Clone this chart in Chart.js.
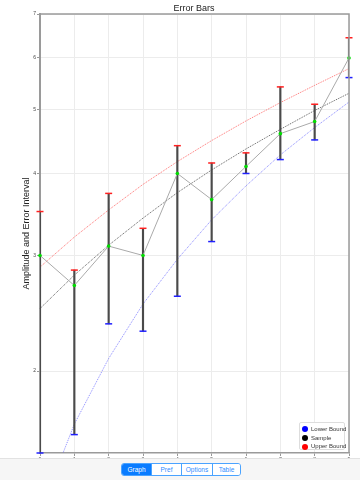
<!DOCTYPE html>
<html>
<head>
<meta charset="utf-8">
<script src="https://cdn.jsdelivr.net/npm/chart.js@4.4.0/dist/chart.umd.min.js"></script>
<style>
html, body { margin: 0; padding: 0; background: #fff; }
body { width: 360px; height: 480px; position: relative; overflow: hidden; font-family: "Liberation Sans", Arial, sans-serif; }
#chart { position: absolute; left: 0; top: 0; }
.legend { position: absolute; left: 299px; top: 422px; width: 46px; height: 28px; background: #fff; border: 1px solid #ddd; border-radius: 2px; box-sizing: border-box; padding-top: 2px; }
.legend div { height: 8.7px; line-height: 8.7px; font-size: 6px; color: #333; white-space: nowrap; position: relative; padding-left: 11px; }
.legend span { position: absolute; left: 2px; top: 1.3px; width: 6px; height: 6px; border-radius: 50%; }
.tabbar { position: absolute; left: 0; top: 458px; width: 360px; height: 22px; background: #f6f6f6; border-top: 1px solid #e2e2e2; box-sizing: border-box; }
.seg { position: absolute; left: 121px; top: 463px; height: 13px; display: flex; border: 1px solid #4aa3ff; border-radius: 3px; box-sizing: border-box; overflow: hidden; }
.seg div { font-size: 6.5px; color: #2f8cff; line-height: 11px; text-align: center; border-left: 1px solid #4aa3ff; background: #fff; }
.seg div:first-child { border-left: none; background: #0a7cff; color: #fff; }
</style>
</head>
<body>
<canvas id="chart" width="360" height="480"></canvas>
<div class="legend">
  <div><span style="background:#0000ff"></span>Lower Bound</div>
  <div><span style="background:#000"></span>Sample</div>
  <div><span style="background:#ff0000"></span>Upper Bound</div>
</div>
<div class="tabbar"></div>
<div class="seg">
  <div style="width:29px">Graph</div>
  <div style="width:29px">Pref</div>
  <div style="width:30px">Options</div>
  <div style="width:27px">Table</div>
</div>
<script>
const xLabels = ['0', '1', '2', '3', '4', '5', '6', '7', '8', '9'];
const yTicks = [2, 3, 4, 5, 6, 7];
const sample = [3.0, 2.7, 3.1, 3.0, 4.0, 3.65, 4.1, 4.6, 4.8, 6.0];
const upper = [3.5, 2.85, 3.73, 3.3, 4.41, 4.15, 4.3, 5.42, 5.1, 6.44];
const lower = [1.5, 1.6, 2.36, 2.3, 2.6, 3.15, 4.0, 4.2, 4.5, 5.6];
// fitted trend lines
const upperTrend = [2.88, 3.20, 3.52, 3.85, 4.17, 4.49, 4.81, 5.13, 5.45, 5.78];
const sampleTrend = [2.49, 2.80, 3.11, 3.42, 3.74, 4.05, 4.36, 4.67, 4.99, 5.30];
const lowerTrend = [1.22, 1.66, 2.09, 2.53, 2.96, 3.40, 3.83, 4.27, 4.70, 5.14];

// frame + titles drawn on the canvas
const decor = {
    id: 'decor',
    afterDraw(chart) {
        const ctx = chart.ctx, a = chart.chartArea;
        ctx.save();
        ctx.strokeStyle = '#9a9a9a';
        ctx.lineWidth = 1.5;
        ctx.beginPath();
        ctx.moveTo(a.left, a.top); ctx.lineTo(a.right, a.top); ctx.lineTo(a.right, a.bottom);
        ctx.stroke();
        ctx.fillStyle = '#222';
        ctx.font = '9px "Liberation Sans", Arial, sans-serif';
        ctx.textAlign = 'center'; ctx.textBaseline = 'middle';
        ctx.fillText('Error Bars', 194, 9);
        ctx.translate(27, (a.top + a.bottom) / 2);
        ctx.rotate(-Math.PI / 2);
        ctx.fillText('Amplitude and Error Interval', 0, 0);
        ctx.restore();
    }
};

const trend = (data, color) => ({
    type: 'line', data, borderColor: color, borderWidth: 1, borderDash: [1, 1],
    pointRadius: 0, fill: false, tension: 0, order: 5
});

new Chart(document.getElementById('chart'), {
    data: {
        labels: xLabels,
        datasets: [
            trend(upperTrend, 'rgba(255,40,40,0.65)'),
            trend(sampleTrend, 'rgba(30,30,30,0.7)'),
            trend(lowerTrend, 'rgba(60,60,255,0.6)'),
            {
                type: 'bar', data: lower.map((v, i) => [v, upper[i]]),
                backgroundColor: '#4a4a4a', barThickness: 1.5, order: 3
            },
            {
                type: 'line', data: sample, borderColor: '#aaa', borderWidth: 1,
                pointRadius: 1.8, pointBackgroundColor: '#00dd00', pointBorderColor: '#00dd00',
                pointBorderWidth: 0, tension: 0, order: 2
            },
            {
                type: 'line', data: upper, showLine: false, pointStyle: 'line', pointRadius: 3.5,
                pointBorderColor: '#ff2020', pointBorderWidth: 1.5, clip: false, order: 1
            },
            {
                type: 'line', data: lower, showLine: false, pointStyle: 'line', pointRadius: 3.5,
                pointBorderColor: '#2020ff', pointBorderWidth: 1.5, clip: false, order: 1
            }
        ]
    },
    options: {
        responsive: false,
        animation: false,
        layout: { padding: { top: 14, right: 11, left: 0, bottom: 0 } },
        plugins: { legend: { display: false }, tooltip: { enabled: false }, title: { display: false } },
        scales: {
            x: {
                type: 'category', offset: false,
                grid: { offset: false, color: '#ececec', tickColor: '#999', tickLength: 3 },
                border: { color: '#9a9a9a', width: 1.5 },
                ticks: { font: { size: 5 }, color: '#555', padding: 1, maxRotation: 0 },
                afterFit(s) { s.height = 27; }
            },
            y: {
                type: 'logarithmic', min: 1.5, max: 7,
                afterBuildTicks(s) { s.ticks = yTicks.map(v => ({ value: v })); },
                grid: { color: '#ececec', tickColor: '#999', tickLength: 3 },
                border: { color: '#9a9a9a', width: 2 },
                ticks: { font: { size: 5 }, color: '#444', padding: 1, callback: v => String(v) },
                afterFit(s) { s.width = 40; }
            }
        }
    },
    plugins: [decor]
});
</script>
</body>
</html>
